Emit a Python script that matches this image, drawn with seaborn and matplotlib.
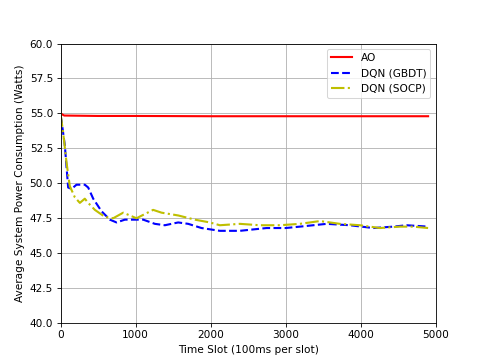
import matplotlib
matplotlib.use("Agg")
import matplotlib.pyplot as plt
import seaborn as sns

# time slots and averaged power
ao_t = [0, 50, 500, 1000, 2000, 3000, 4000, 4900]
ao_p = [55.0, 54.85, 54.82, 54.82, 54.8, 54.8, 54.8, 54.8]

gbdt_t = [0, 13, 58, 102, 147, 213, 324, 369, 436, 547, 658, 747, 858, 991, 1102,
          1258, 1391, 1569, 1702, 1880, 2124, 2391, 2747, 3000, 3191, 3547, 3858,
          4169, 4436, 4613, 4902]
gbdt_p = [54.8, 54.5, 52.7, 49.7, 49.6, 49.9, 49.9, 49.7, 48.9, 48.0, 47.4, 47.2,
          47.4, 47.4, 47.4, 47.1, 47.0, 47.2, 47.1, 46.8, 46.6, 46.6, 46.8, 46.8,
          46.9, 47.1, 47.0, 46.8, 46.9, 47.0, 46.9]

socp_t = [0, 36, 80, 124, 191, 258, 324, 369, 458, 591, 702, 836, 1013, 1124, 1235,
          1347, 1569, 1791, 1991, 2124, 2391, 2658, 2924, 3191, 3458, 3724, 3991,
          4258, 4524, 4702, 4900]
socp_p = [55.0, 53.6, 51.5, 49.8, 49.0, 48.6, 48.9, 48.6, 48.1, 47.6, 47.5, 47.9,
          47.5, 47.8, 48.1, 47.9, 47.7, 47.4, 47.2, 47.0, 47.1, 47.0, 47.0, 47.1,
          47.3, 47.1, 47.0, 46.8, 46.9, 46.9, 46.8]

fig, ax = plt.subplots(figsize=(6.4, 4.8), dpi=75.625)

sns.lineplot(x=ao_t, y=ao_p, color="r", linestyle="-", linewidth=2, label="AO", ax=ax)
sns.lineplot(x=gbdt_t, y=gbdt_p, color="b", linestyle="--", linewidth=2,
             label="DQN (GBDT)", ax=ax)
sns.lineplot(x=socp_t, y=socp_p, color="y", linestyle="-.", linewidth=2,
             label="DQN (SOCP)", ax=ax)

ax.set_xlim(0, 5000)
ax.set_ylim(40, 60)
ax.set_xticks([0, 1000, 2000, 3000, 4000, 5000])
ax.set_yticks([40, 42.5, 45, 47.5, 50, 52.5, 55, 57.5, 60])
ax.grid(True)
ax.set_xlabel("Time Slot (100ms per slot)")
ax.set_ylabel("Average System Power Consumption (Watts)")
ax.legend(loc="upper right")

plt.savefig("out.png")
